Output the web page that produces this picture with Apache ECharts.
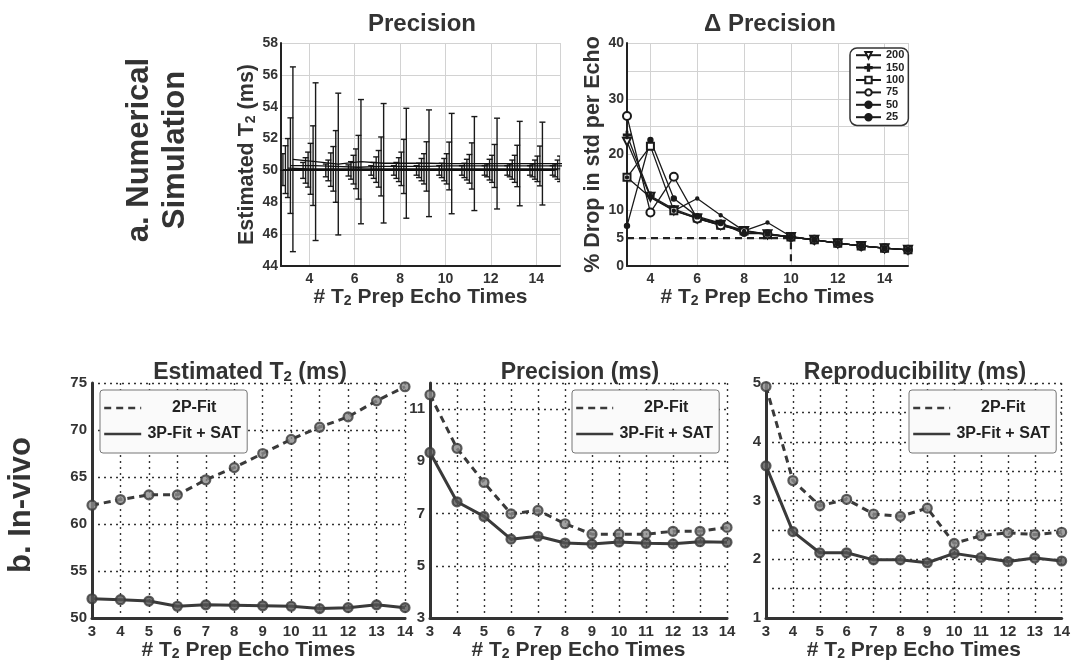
<!DOCTYPE html>
<html><head><meta charset="utf-8">
<script src="https://cdn.jsdelivr.net/npm/echarts@6/dist/echarts.min.js"></script>
<style>html,body{margin:0;padding:0;background:#fff}#c{width:1073px;height:664px}</style>
</head><body><div id="c"></div>
<script>
// ---------- data: numerical simulation ----------
const echoSim = [3,4,5,6,7,8,9,10,11,12,13,14,15];
const snrNames = ['200','150','100','75','50','25'];
const sd200 = [0.7,0.5,0.4,0.35,0.3,0.3,0.3,0.3,0.3,0.3,0.3,0.3,0.3];
const sd150 = [1.0,0.8,0.65,0.55,0.5,0.5,0.45,0.45,0.45,0.4,0.4,0.4,0.4];
const sd100 = [1.5,1.1,1.05,0.9,0.8,0.75,0.7,0.7,0.65,0.65,0.6,0.6,0.6];
const sd75  = [1.85,1.6,1.4,1.25,1.15,1.05,0.95,0.95,0.9,0.85,0.85,0.8,0.8];
const sd50  = [3.0,2.5,2.25,2.0,1.85,1.7,1.55,1.5,1.45,1.35,1.3,1.25,1.2];
const sd25  = [5.8,4.95,4.45,3.9,3.75,3.45,3.35,3.15,2.95,2.85,2.65,2.6,2.5];
const mean200 = [50.0,50.0,50.0,50.0,50.0,50.0,50.0,50.0,50.0,50.0,50.0,50.0,50.0];
const mean150 = [50.05,50.0,50.0,50.0,50.0,50.0,50.0,50.0,50.0,50.0,50.0,50.0,50.0];
const mean100 = [50.05,50.05,50.05,50.05,50.05,50.05,50.05,50.05,50.05,50.05,50.05,50.05,50.05];
const mean75  = [50.15,50.1,50.1,50.1,50.1,50.1,50.1,50.1,50.1,50.1,50.1,50.1,50.1];
const mean50  = [50.3,50.3,50.25,50.2,50.25,50.25,50.25,50.28,50.28,50.28,50.28,50.28,50.28];
const mean25  = [50.7,50.55,50.4,50.55,50.45,50.45,50.45,50.43,50.43,50.43,50.43,50.43,50.43];
const drop200 = [22.3,12.4,10.0,8.5,7.4,6.3,5.7,5.2,4.7,4.1,3.6,3.2,2.9];
const drop150 = [23.5,12.6,10.2,8.7,7.6,6.4,5.7,5.2,4.7,4.1,3.6,3.2,2.9];
const drop100 = [15.9,21.5,9.9,8.6,7.3,6.3,5.6,5.2,4.7,4.1,3.6,3.2,2.9];
const drop75  = [26.9,9.6,16.0,8.5,7.3,6.2,5.7,5.2,4.7,4.1,3.6,3.2,2.9];
const drop50  = [7.2,22.6,12.1,8.9,7.7,5.8,5.8,5.2,4.7,4.1,3.6,3.2,2.9];
const drop25  = [15.9,12.3,9.9,12.1,9.1,6.3,7.8,5.3,4.7,4.1,3.6,3.2,2.9];
const threshX = [3,10,10];
const threshY = [5,5,0];

// ---------- data: in-vivo ----------
const echoVivo = [3,4,5,6,7,8,9,10,11,12,13,14];
const t2Fit2P   = [62.0,62.6,63.1,63.1,64.7,66.0,67.5,69.0,70.3,71.4,73.1,74.6];
const t2Fit3P   = [52.05,51.95,51.8,51.25,51.4,51.35,51.3,51.25,51.0,51.1,51.4,51.1];
const precFit2P = [11.55,9.5,8.19,6.99,7.12,6.61,6.21,6.21,6.21,6.32,6.32,6.47];
const precFit3P = [9.34,7.45,6.89,6.02,6.13,5.87,5.83,5.91,5.86,5.84,5.92,5.9];
const reprFit2P = [4.94,3.34,2.91,3.02,2.77,2.73,2.87,2.27,2.4,2.45,2.42,2.46];
const reprFit3P = [3.59,2.47,2.11,2.11,1.99,1.99,1.94,2.1,2.03,1.96,2.02,1.97];

// ---------- styling ----------
const FONT = "'Liberation Sans', Arial, Helvetica, sans-serif";
const INK = '#333';
const sdSets = [sd200, sd150, sd100, sd75, sd50, sd25];
const meanSets = [mean200, mean150, mean100, mean75, mean50, mean25];
const dropSets = [drop200, drop150, drop100, drop75, drop50, drop25];
const groupOffset = [-0.275,-0.165,-0.055,0.055,0.165,0.275];
const snrSymbols = [
  {symbol:'emptyTriangle', symbolRotate:180, symbolSize:8},
  {symbol:'path://M4,0H6V4H10V6H6V10H4V6H0V4H4Z', symbolSize:7},
  {symbol:'emptyRect', symbolSize:7},
  {symbol:'emptyCircle', symbolSize:8},
  {symbol:'circle', symbolSize:5},
  {symbol:'circle', symbolSize:3}
];

const subRich = {s:{fontSize:14, fontWeight:'bold', color:INK, fontFamily:FONT, verticalAlign:'bottom'}};
const xName = '# T{s|2} Prep Echo Times';
const nameStyle = (size) => ({fontSize:size, fontWeight:'bold', color:INK, fontFamily:FONT, rich:subRich});

const grids = [
  {left:281, top:43, width:279, height:223},
  {left:627, top:43, width:281, height:223},
  {left:92,  top:383, width:313, height:235},
  {left:430, top:383, width:297, height:235},
  {left:766, top:383, width:301, height:235}
];

function topX(gi, min, max){
  return {type:'value', gridIndex:gi, min:min, max:max, splitNumber:6,
    axisLine:{lineStyle:{color:'#222', width:2}}, axisTick:{show:false},
    axisLabel:{showMinLabel:false, showMaxLabel:false, fontSize:14, fontWeight:'bold', color:INK, fontFamily:FONT, margin:6},
    splitLine:{show:true, lineStyle:{color:'#d2d2d2', width:1}},
    name:xName, nameLocation:'middle', nameGap:14, nameTextStyle:nameStyle(21)};
}
function topY(gi, min, max, interval, name, fmt){
  return {type:'value', gridIndex:gi, min:min, max:max, interval:interval,
    axisLine:{show:true, lineStyle:{color:'#222', width:2}}, axisTick:{show:false},
    axisLabel:{fontSize:14, fontWeight:'bold', color:INK, fontFamily:FONT, margin:3, formatter:fmt},
    splitLine:{show:true, lineStyle:{color:'#d2d2d2', width:1}},
    name:name, nameLocation:'middle', nameGap:23, nameTextStyle:nameStyle(21.5)};
}
const dotted = {color:'#333', width:1.4, type:[2,4]};
function botX(gi){
  return {type:'value', gridIndex:gi, min:3, max:14, interval:1,
    axisLine:{lineStyle:{color:'#333', width:3}}, axisTick:{show:false},
    axisLabel:{fontSize:15, fontWeight:'bold', color:INK, fontFamily:FONT, margin:6},
    splitLine:{show:true, lineStyle:dotted},
    name:xName, nameLocation:'middle', nameGap:16, nameTextStyle:nameStyle(21)};
}
function botY(gi, min, max, interval, fmt){
  return {type:'value', gridIndex:gi, min:min, max:max, interval:interval,
    axisLine:{show:true, lineStyle:{color:'#333', width:3}}, axisTick:{show:false},
    axisLabel:{fontSize:15, fontWeight:'bold', color:INK, fontFamily:FONT, margin:5, formatter:fmt},
    splitLine:{show:true, lineStyle:dotted}};
}

function errorBar(params, api){
  const cs = params.coordSys;
  const x = api.value(0), lo = api.value(1), hi = api.value(2);
  const top = api.coord([x, hi]), bot = api.coord([x, lo]);
  if (top[0] < cs.x - 0.5 || top[0] > cs.x + cs.width + 0.5) return {type:'group', children:[]};
  const cw = 3;
  const st = {stroke:'#1a1a1a', lineWidth:1.4};
  return {type:'group', children:[
    {type:'line', shape:{x1:top[0], y1:top[1], x2:bot[0], y2:bot[1]}, style:st},
    {type:'line', shape:{x1:top[0]-cw, y1:top[1], x2:top[0]+cw, y2:top[1]}, style:st},
    {type:'line', shape:{x1:bot[0]-cw, y1:bot[1], x2:bot[0]+cw, y2:bot[1]}, style:st}
  ]};
}

const series = [];
// Precision (error bars + mean lines)
sdSets.forEach((sd, i) => {
  series.push({type:'custom', xAxisIndex:0, yAxisIndex:0, renderItem:errorBar, clip:true,
    encode:{x:0, y:[1,2]}, silent:true,
    data: echoSim.map((e,k) => [e + groupOffset[i], meanSets[i][k] - sd[k], meanSets[i][k] + sd[k]])});
});
meanSets.forEach((m, i) => {
  series.push({type:'line', xAxisIndex:0, yAxisIndex:0, symbol:'none', silent:true, clip:true, z:3,
    lineStyle:{color:'#111', width:1.3},
    data: echoSim.map((e,k) => [e + groupOffset[i], m[k]])});
});
// Delta precision
dropSets.forEach((d, i) => {
  series.push(Object.assign({type:'line', name:snrNames[i], xAxisIndex:1, yAxisIndex:1,
    lineStyle:{color:'#1a1a1a', width:1.3}, itemStyle:{color:'#1a1a1a', borderColor:'#1a1a1a', borderWidth:1.4},
    data: echoSim.map((e,k) => [e, d[k]])}, snrSymbols[i]));
});
series.push({type:'line', xAxisIndex:1, yAxisIndex:1, symbol:'none', silent:true, z:1,
  lineStyle:{color:'#222', width:2.2, type:[7,5]},
  data: threshX.map((x,k) => [x, threshY[k]])});

// In-vivo panels
const vivo = [[t2Fit2P, t2Fit3P],[precFit2P, precFit3P],[reprFit2P, reprFit3P]];
vivo.forEach((pair, p) => {
  const ax = 2 + p;
  series.push({type:'line', name:'2P-Fit', xAxisIndex:ax, yAxisIndex:ax, symbol:'none',
    lineStyle:{color:'#3a3a3a', width:3, type:[7,5]}, itemStyle:{color:'#3a3a3a'},
    data: echoVivo.map((e,k) => [e, pair[0][k]])});
  series.push({type:'line', name:'3P-Fit + SAT', xAxisIndex:ax, yAxisIndex:ax, symbol:'none',
    lineStyle:{color:'#3a3a3a', width:3}, itemStyle:{color:'#3a3a3a'},
    data: echoVivo.map((e,k) => [e, pair[1][k]])});
  series.push({type:'scatter', xAxisIndex:ax, yAxisIndex:ax, symbol:'circle', symbolSize:9, silent:true, z:4,
    itemStyle:{color:'#8a8a8a', borderColor:'#3a3a3a', borderWidth:2.2},
    data: echoVivo.map((e,k) => [e, pair[0][k]])});
  series.push({type:'scatter', xAxisIndex:ax, yAxisIndex:ax, symbol:'circle', symbolSize:9, silent:true, z:4,
    itemStyle:{color:'#555', borderColor:'#3a3a3a', borderWidth:2.2},
    data: echoVivo.map((e,k) => [e, pair[1][k]])});
});

function vivoLegend(left){
  return {left:left, top:390, orient:'vertical', data:['2P-Fit','3P-Fit + SAT'],
    itemWidth:37, itemHeight:14, itemGap:10, padding:[10,5,11,3],
    backgroundColor:'#fafafa', borderColor:'#777', borderWidth:1, borderRadius:3,
    itemStyle:{opacity:0, borderWidth:0}, lineStyle:{width:2.4},
    selectedMode:false, formatter:'{t|{name}}',
    textStyle:{lineHeight:14, rich:{t:{width:96, align:'center', fontSize:16, fontWeight:'bold', color:'#222', fontFamily:FONT, lineHeight:14}}}};
}

function gtext(x, y, text, size, rot){
  return {type:'text', x:x, y:y, rotation:rot||0, silent:true,
    style:{text:text, fill:INK, font:'bold '+size+'px '+FONT, fontSize:size, fontWeight:'bold', fontFamily:FONT,
      align:'center', verticalAlign:'middle', textAlign:'center', textVerticalAlign:'middle',
      rich:{s:{fontSize:Math.round(size*0.65), fontWeight:'bold', fill:INK, fontFamily:FONT, verticalAlign:'bottom'}}}};
}

const option = {
  backgroundColor:'#fff',
  animation:false,
  grid: grids.map(g => Object.assign({containLabel:false}, g)),
  xAxis:[topX(0, 2.75, 15.05), topX(1, 3, 15), botX(2), botX(3), botX(4)],
  yAxis:[
    topY(0, 44, 58, 2, 'Estimated T{s|2} (ms)'),
    topY(1, 0, 40, 5, '% Drop in std per Echo', v => ([15,25,35].indexOf(v) >= 0 ? '' : String(v))),
    botY(2, 50, 75, 5),
    botY(3, 3, 12, 2),
    botY(4, 1, 5, 0.5, v => (Math.abs(v - Math.round(v)) < 1e-6 ? String(Math.round(v)) : ''))
  ],
  legend:[
    {left:850, top:48, orient:'vertical', data:snrNames, itemWidth:25, itemHeight:8, itemGap:0,
     padding:[1,4,2,5], borderColor:'#333', borderWidth:1.5, borderRadius:7, backgroundColor:'#fff',
     selectedMode:false,
     textStyle:{fontSize:11, fontWeight:'bold', color:'#222', fontFamily:FONT, lineHeight:12.4}},
    vivoLegend(100), vivoLegend(572), vivoLegend(909)
  ],
  graphic:[
    gtext(422, 24, 'Precision', 24),
    gtext(770, 24, 'Δ Precision', 24),
    gtext(250, 373, 'Estimated T{s|2} (ms)', 23),
    gtext(580, 373, 'Precision (ms)', 23),
    gtext(915, 373, 'Reproducibility (ms)', 23),
    gtext(157, 150, 'a. Numerical\nSimulation', 31, Math.PI/2),
    gtext(21, 505, 'b. In-vivo', 31, Math.PI/2)
  ],
  series: series
};
option.yAxis[3].axisLabel.showMaxLabel = false;
option.graphic[5].style.lineHeight = 36;

const chart = echarts.init(document.getElementById('c'), null, {renderer:'canvas'});
chart.setOption(option);
</script>
</body></html>
